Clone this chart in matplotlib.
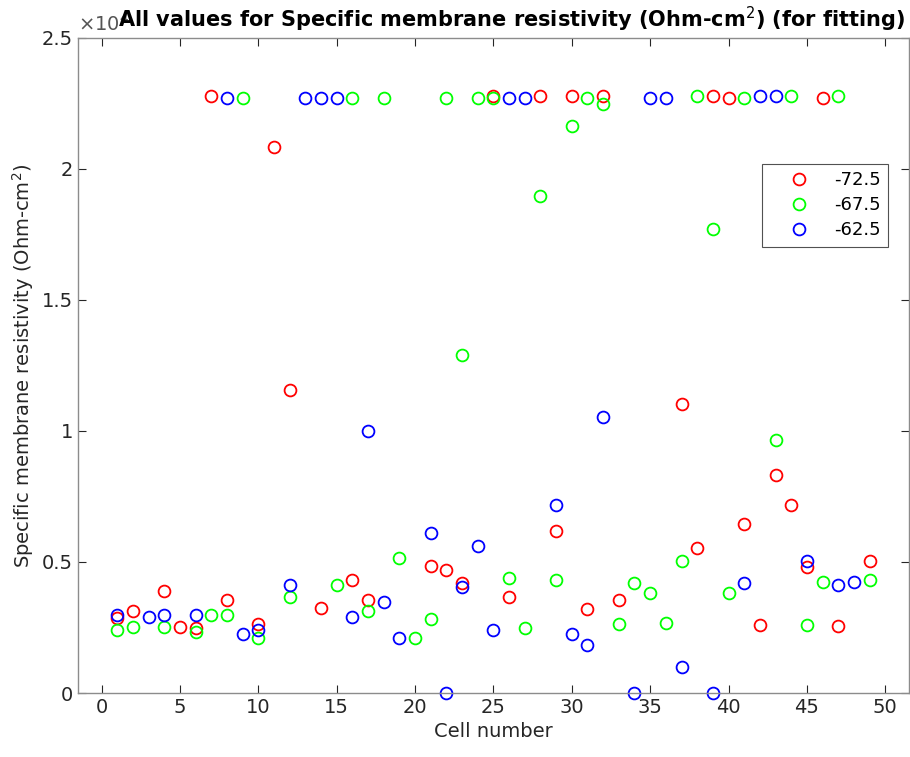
import numpy as np
import matplotlib
matplotlib.use("Agg")
import matplotlib.pyplot as plt
from matplotlib.ticker import FuncFormatter

nan = np.nan

# Cell numbers 1..49
cells = list(range(1, 50))

# Specific membrane resistivity (Ohm-cm^2) per holding potential
rm_m72_5 = [2855, 3130, nan, 3900, 2535, 2500, 22780, 3540, nan, 2626,
            20850, 11580, nan, 3260, nan, 4320, 3540, nan, nan, nan,
            4830, 4690, 4217, nan, 22780, 3680, nan, 22780, 6180, 22780,
            3200, 22800, 3540, nan, nan, nan, 11020, 5540, 22780, 22700,
            6460, 2610, 8320, 7175, 4817, 22700, 2550, nan, 5030]

rm_m67_5 = [2410, 2535, nan, 2535, nan, 2340, 2970, 2970, 22700, 2115,
            nan, 3680, nan, nan, 4120, 22700, 3120, 22700, 5170, 2115,
            2840, 22700, 12890, 22700, 22700, 4400, 2485, 18950, 4320, 21650,
            22700, 22480, 2626, 4190, 3834, 2687, 5030, 22780, 17720, 3834,
            22700, nan, 9660, 22780, 2610, 4255, 22780, nan, 4320]

rm_m62_5 = [2970, nan, 2900, 2970, nan, 2970, nan, 22700, 2255, 2420,
            nan, 4117, 22700, 22700, 22700, 2900, 10010, 3480, 2115, nan,
            6104, 0, 4050, 5620, 2410, 22700, 22700, nan, 7175, 2255,
            1835, 10520, nan, 0, 22700, 22700, 994, nan, 0, nan,
            4190, 22780, 22780, nan, 5046, nan, 4117, 4255, nan]

series_labels = ["-72.5", "-67.5", "-62.5"]
series_colors = ["#ff0000", "#00ff00", "#0000ff"]

x_ticks = [0, 5, 10, 15, 20, 25, 30, 35, 40, 45, 50]
y_ticks = [0, 5000, 10000, 15000, 20000, 25000]
y_scale = 1e4

plt.rcParams["font.family"] = ["DejaVu Sans"]

fig = plt.figure(figsize=(9.1, 7.57), dpi=100)
ax = fig.add_axes([0.0857, 0.0845, 0.913, 0.8655])

for vals, lab, col in zip([rm_m72_5, rm_m67_5, rm_m62_5], series_labels, series_colors):
    ax.plot(cells, vals, linestyle="none", marker="o", markersize=8.5,
            markerfacecolor="none", markeredgecolor=col, markeredgewidth=1.3,
            label=lab, clip_on=False)

ax.set_xlim(-1.5, 51.5)
ax.set_ylim(0, 25000)
ax.set_xticks(x_ticks)
ax.set_yticks(y_ticks)
ax.yaxis.set_major_formatter(FuncFormatter(lambda v, p: "%g" % (v / y_scale)))

text_gray = "#262626"
axis_gray = "#8c8c8c"
for sp in ax.spines.values():
    sp.set_color(axis_gray)
    sp.set_linewidth(1.0)
ax.tick_params(direction="in", top=True, right=True, length=6, width=0.8,
               colors=text_gray, labelsize=14, labelcolor=text_gray)

ax.set_xlabel("Cell number", fontsize=14, color=text_gray)
ax.set_ylabel("Specific membrane resistivity (Ohm-cm$^2$)", fontsize=14, color=text_gray)

# exponent label for the y axis, top-left of the axes
fig.text(0.0857, 1 - 31 / 757, r"$\times10^{4}$", fontsize=14, color="#555555",
         ha="left", va="baseline")

fig.text(0.5625, 1 - 27 / 757,
         "All values for Specific membrane resistivity (Ohm-cm$^2$) (for fitting)",
         fontsize=15, fontweight="bold", ha="center", va="baseline", color="black")

leg = ax.legend(loc="upper right", bbox_to_anchor=(0.975, 0.808), fontsize=13,
                frameon=True, fancybox=False, edgecolor=text_gray,
                borderaxespad=0.0, borderpad=0.4, handletextpad=0.3,
                labelspacing=0.4, handlelength=3.3)
leg.get_frame().set_linewidth(0.8)

fig.savefig("out.png", dpi=100)
